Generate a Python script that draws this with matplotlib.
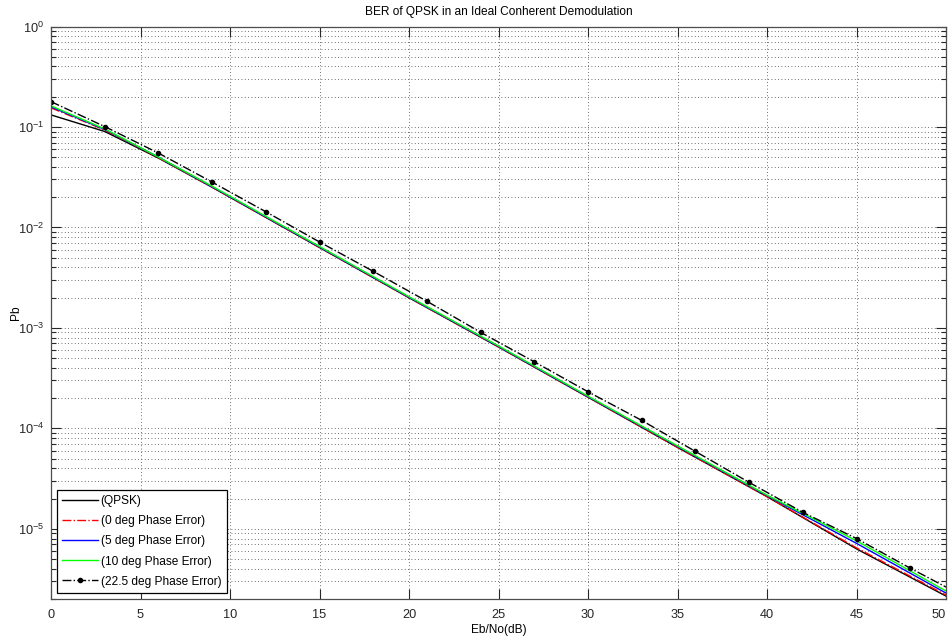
import matplotlib
matplotlib.use("Agg")
import matplotlib.pyplot as plt
import numpy as np
from matplotlib.ticker import LogLocator, FixedLocator, NullFormatter

plt.rcParams['font.family'] = ['Liberation Sans', 'DejaVu Sans']

# Eb/No (dB) sample points
ebno = [0, 3, 6, 9, 12, 15, 20, 25, 30, 35, 40, 45, 50]
# log10(Pb) values
qpsk_log = [-0.88, -1.045, -1.31, -1.60, -1.90, -2.20, -2.70, -3.19, -3.69, -4.19, -4.68, -5.20, -5.67]
pe0_log = [-0.81, -1.03, -1.305, -1.60, -1.90, -2.20, -2.70, -3.19, -3.69, -4.19, -4.68, -5.19, -5.66]
pe5_log = [-0.80, -1.025, -1.30, -1.595, -1.895, -2.195, -2.695, -3.185, -3.685, -4.18, -4.67, -5.145, -5.64]
pe10_log = [-0.79, -1.02, -1.30, -1.59, -1.89, -2.19, -2.69, -3.18, -3.68, -4.175, -4.665, -5.12, -5.62]

ebno_225 = [0, 3, 6, 9, 12, 15, 18, 21, 24, 27, 30, 33, 36, 39, 42, 45, 48, 50]
pe225_log = [-0.748, -0.996, -1.260, -1.549, -1.844, -2.145, -2.437, -2.735, -3.044, -3.338,
             -3.636, -3.921, -4.230, -4.538, -4.836, -5.097, -5.392, -5.58]

labels = ['(QPSK)', '(0 deg Phase Error)', '(5 deg Phase Error)', '(10 deg Phase Error)',
          '(22.5 deg Phase Error)']

def p(v):
    return [10.0 ** a for a in v]

FS = 8.6

fig = plt.figure(figsize=(9.51, 6.41), dpi=100)
ax = fig.add_axes([51/951, 1 - 599/641, (946 - 51)/951, (599 - 26.5)/641])

ax.semilogy(ebno, p(qpsk_log), color='k', lw=1.0, label=labels[0])
ax.semilogy(ebno, p(pe0_log), color='r', lw=1.0, ls='-.', label=labels[1])
ax.semilogy(ebno, p(pe5_log), color=(0, 0, 1), lw=1.0, label=labels[2])
ax.semilogy(ebno, p(pe10_log), color=(0, 1, 0), lw=1.0, label=labels[3])
ax.semilogy(ebno_225, p(pe225_log), color='k', lw=1.0, ls='-.', marker='.', ms=6,
            markevery=list(range(17)), label=labels[4])

ax.set_xlim(0, 50)
ax.set_ylim(2e-6, 1)
ax.xaxis.set_major_locator(FixedLocator(np.arange(0, 51, 5)))
ax.yaxis.set_major_locator(LogLocator(base=10, numticks=20))
ax.yaxis.set_minor_locator(LogLocator(base=10, subs=np.arange(2, 10), numticks=20))
ax.yaxis.set_minor_formatter(NullFormatter())

ax.grid(True, which='major', axis='both', color='0.25', ls=(0, (1, 3)), lw=0.6)
ax.grid(True, which='minor', axis='y', color='0.25', ls=(0, (1, 3)), lw=0.6)

ax.tick_params(which='both', direction='in', top=True, right=True, labelsize=FS + 0.6, colors='0.15')
ax.tick_params(which='major', length=7, width=0.8)
ax.tick_params(which='minor', length=3.5, width=0.8)
ax.tick_params(axis='x', pad=7)
ax.tick_params(axis='y', pad=5)
for s in ax.spines.values():
    s.set_color('0.3')
    s.set_linewidth(0.9)

ax.set_xlabel('Eb/No(dB)', fontsize=FS, labelpad=2)
ax.set_ylabel('Pb', fontsize=FS)
ax.yaxis.set_label_coords(-0.032, 0.5)
ax.set_title('BER of QPSK in an Ideal Conherent Demodulation', fontsize=FS, pad=8)

fig.canvas.draw()
last = ax.get_xticklabels()[-1]
last.set_horizontalalignment('right')

leg = ax.legend(loc='lower left', fontsize=FS, frameon=True, fancybox=False, shadow=False,
                handlelength=3.0, handletextpad=0.2, borderpad=0.45, labelspacing=0.68,
                borderaxespad=0.5)
leg.get_frame().set_edgecolor('k')
leg.get_frame().set_linewidth(0.9)
leg.get_frame().set_alpha(1)

fig.savefig('out.png', dpi=100, facecolor='white')
